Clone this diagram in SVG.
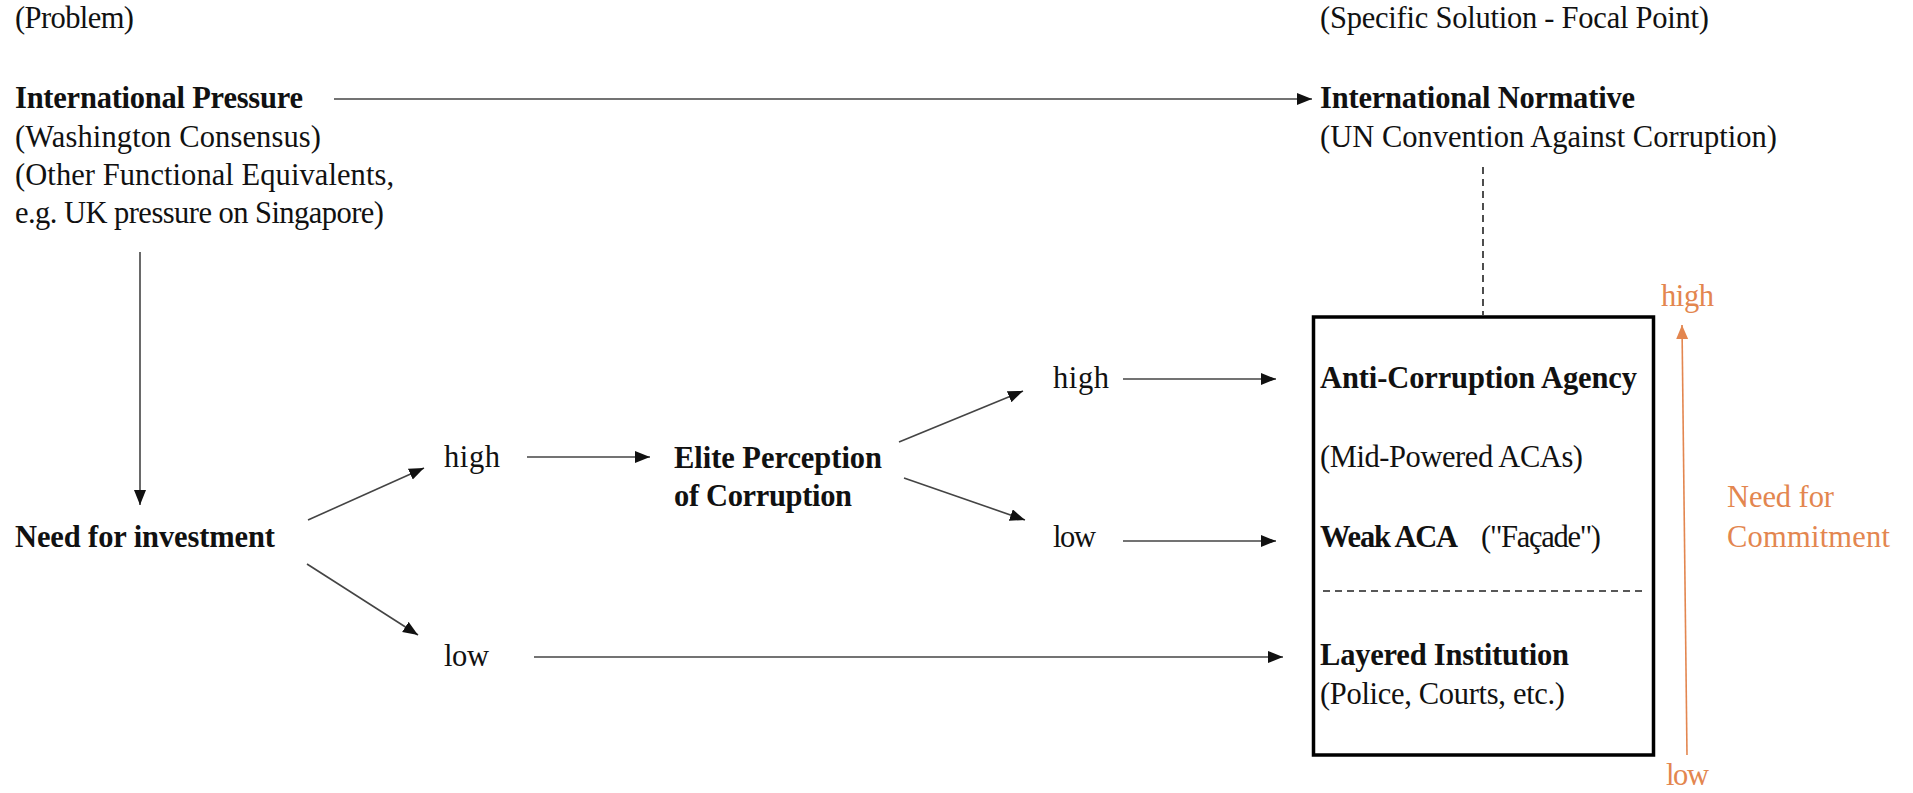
<svg xmlns="http://www.w3.org/2000/svg" width="1913" height="793" viewBox="0 0 1913 793">
<style>
text{font-family:"Liberation Serif","Times New Roman",serif;font-size:30.5px;fill:#111}
.b{font-weight:bold}
.o{fill:#E3864F}
.c{stroke:#444;stroke-width:1.6;fill:none}
.d{stroke:#222;stroke-width:1.6;fill:none;stroke-dasharray:7 5}
</style>
<defs>
<marker id="ah" markerUnits="userSpaceOnUse" markerWidth="16" markerHeight="13" refX="15" refY="6" orient="auto">
<path d="M0,0 L15,6 L0,12 z" fill="#111"/>
</marker>
<marker id="aho" markerUnits="userSpaceOnUse" markerWidth="15" markerHeight="13" refX="14" refY="6" orient="auto">
<path d="M0,0 L14,6 L0,12 z" fill="#E3864F"/>
</marker>
</defs>
<rect width="1913" height="793" fill="#fff"/>
<g id="connectors">
<line class="c" x1="334" y1="99" x2="1312" y2="99" marker-end="url(#ah)"/>
<line class="c" x1="140" y1="252" x2="140" y2="505" marker-end="url(#ah)"/>
<line class="c" x1="308" y1="520" x2="424" y2="468" marker-end="url(#ah)"/>
<line class="c" x1="307" y1="564" x2="418" y2="635" marker-end="url(#ah)"/>
<line class="c" x1="527" y1="457" x2="650" y2="457" marker-end="url(#ah)"/>
<line class="c" x1="534" y1="657" x2="1283" y2="657" marker-end="url(#ah)"/>
<line class="c" x1="899" y1="442" x2="1023" y2="391" marker-end="url(#ah)"/>
<line class="c" x1="904" y1="478" x2="1025" y2="520" marker-end="url(#ah)"/>
<line class="c" x1="1123" y1="379" x2="1276" y2="379" marker-end="url(#ah)"/>
<line class="c" x1="1123" y1="541" x2="1276" y2="541" marker-end="url(#ah)"/>
<line class="d" x1="1483" y1="167" x2="1483" y2="315" stroke-dasharray="6 4"/>
<line x1="1687" y1="755" x2="1682" y2="325" stroke="#E3864F" stroke-width="1.6" marker-end="url(#aho)"/>
</g>
<g id="problem"><text x="15" y="28" textLength="119">(Problem)</text></g>
<g id="international-pressure">
<text class="b" x="15" y="108" textLength="288">International Pressure</text>
<text x="15" y="147" textLength="306">(Washington Consensus)</text>
<text x="15" y="185" textLength="379">(Other Functional Equivalents,</text>
<text x="15" y="223" textLength="369">e.g. UK pressure on Singapore)</text>
</g>
<g id="specific-solution"><text x="1320" y="28" textLength="389">(Specific Solution - Focal Point)</text></g>
<g id="international-normative">
<text class="b" x="1320" y="108" textLength="315">International Normative</text>
<text x="1320" y="147" textLength="457">(UN Convention Against Corruption)</text>
</g>
<g id="need-investment"><text class="b" x="15" y="547" textLength="260">Need for investment</text></g>
<g id="inv-high"><text x="444" y="467" textLength="56">high</text></g>
<g id="inv-low"><text x="444" y="666" textLength="45">low</text></g>
<g id="elite-perception">
<text class="b" x="674" y="468" textLength="208">Elite Perception</text>
<text class="b" x="674" y="506" textLength="178">of Corruption</text>
</g>
<g id="per-high"><text x="1053" y="388" textLength="56">high</text></g>
<g id="per-low"><text x="1053" y="547" textLength="43">low</text></g>
<g id="outcomes">
<rect x="1313.5" y="317" width="340" height="438" fill="none" stroke="#000" stroke-width="3.5"/>
<text class="b" x="1320" y="388" textLength="317">Anti-Corruption Agency</text>
<text x="1320" y="467" textLength="263">(Mid-Powered ACAs)</text>
<text class="b" x="1320" y="547" textLength="138">Weak ACA</text>
<text x="1481" y="547" textLength="120">("Façade")</text>
<line class="d" x1="1323" y1="591" x2="1643" y2="591"/>
<text class="b" x="1320" y="665" textLength="249">Layered Institution</text>
<text x="1320" y="704" textLength="245">(Police, Courts, etc.)</text>
</g>
<g id="commitment-scale">
<text class="o" x="1661" y="306" textLength="53">high</text>
<text class="o" x="1666" y="785" textLength="43">low</text>
<text class="o" x="1727" y="507" textLength="107">Need for</text>
<text class="o" x="1727" y="547" textLength="163">Commitment</text>
</g>
</svg>
